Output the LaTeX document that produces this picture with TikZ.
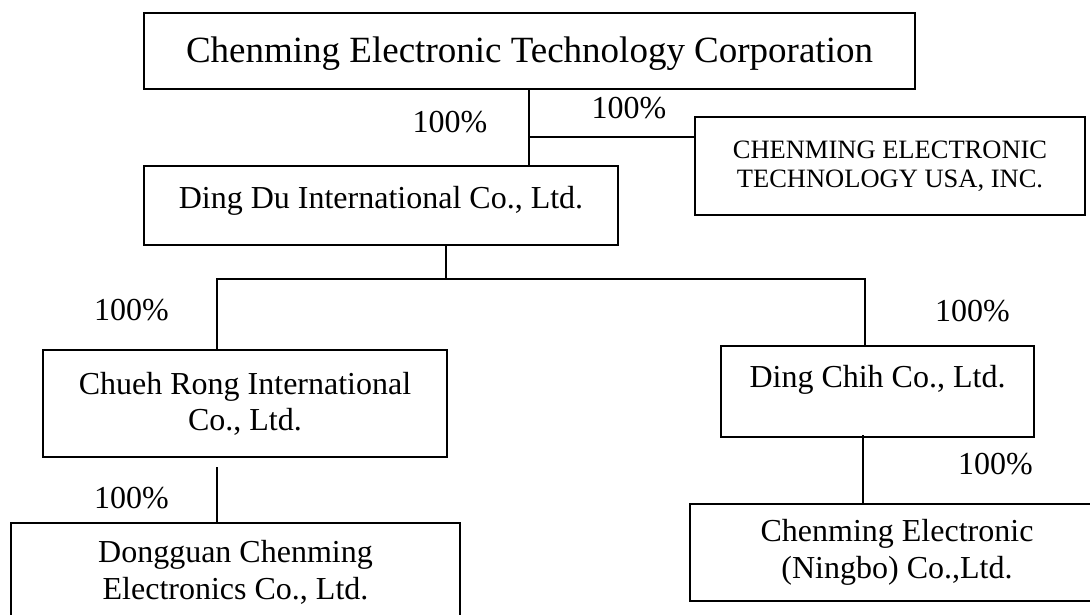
\documentclass[tikz,border=0pt]{standalone}
\usepackage{fontspec}
\setmainfont{Liberation Serif}
\usetikzlibrary{positioning,calc}

\begin{document}
\begin{tikzpicture}[
        x=1pt, y=-1pt,
        company/.style={rectangle, draw, line width=1.8pt, inner sep=0pt, font=\fontsize{32}{36}\selectfont},
        pct/.style={inner sep=0pt, font=\fontsize{32}{36}\selectfont},
        link/.style={line width=1.6pt}
    ]
        \useasboundingbox (0,0) rectangle (1090,614);

        % Parent and first level
        \node[company, minimum width=771pt, minimum height=76pt, text height=49pt, text depth=27pt, font=\fontsize{37}{42}\selectfont] (parent) at (529.5,51) {Chenming Electronic Technology Corporation};
        \node[company, minimum width=474pt, minimum height=79pt, text height=42pt, text depth=37pt] (dingdu) at (381,205.5) {Ding Du International Co., Ltd.};
        \node[company, minimum width=390pt, minimum height=98pt, align=center, font=\fontsize{26.5}{29}\selectfont] (usa) at (890,166) {CHENMING ELECTRONIC\\TECHNOLOGY USA, INC.};

        % Second level
        \node[company, minimum width=404pt, minimum height=107pt, align=center] (chueh) at (245,403.5) {Chueh Rong International\\Co., Ltd.};
        \node[company, minimum width=313pt, minimum height=91pt, text height=41pt, text depth=50pt] (dingchih) at (877.5,391.5) {Ding Chih Co., Ltd.};

        % Third level
        \node[company, minimum width=449pt, minimum height=99pt, align=center, font=\fontsize{32}{37}\selectfont] (dongguan) at (235.5,572.5) {Dongguan Chenming\\Electronics Co., Ltd.};
        \node[company, minimum width=414pt, minimum height=97pt, align=center, font=\fontsize{32}{37}\selectfont] (ningbo) at (897,552.5) {Chenming Electronic\\(Ningbo) Co.,Ltd.};

        % Junctions
        \coordinate (usaj) at (529,137);
        \coordinate (bus) at (446,279);
        \coordinate (busl) at (217,279);
        \coordinate (busr) at (865,279);
        \coordinate (crj) at (217,467);
        \coordinate (nbj) at (863,435);

        % Connections
        \draw[link] (parent.south -| usaj) -- (usaj |- dingdu.north);
        \draw[link] (usaj) -- (usaj -| usa.west);
        \draw[link] (bus |- dingdu.south) -- (bus);
        \draw[link] (busl |- chueh.north) -- (busl) -- (busr) -- (busr |- dingchih.north);
        \draw[link] (crj) -- (crj |- dongguan.north);
        \draw[link] (nbj) -- (nbj |- ningbo.north);

        % Shares
        \node[pct] (p1) at (450,122) {100\%};
        \node[pct] (p2) at (629,108) {100\%};
        \node[pct] (p3) at (131.5,310) {100\%};
        \node[pct] (p4) at (972.5,311) {100\%};
        \node[pct] (p5) at (131.5,498.5) {100\%};
        \node[pct] (p6) at (995.5,464) {100\%};

    \end{tikzpicture}
\end{document}
